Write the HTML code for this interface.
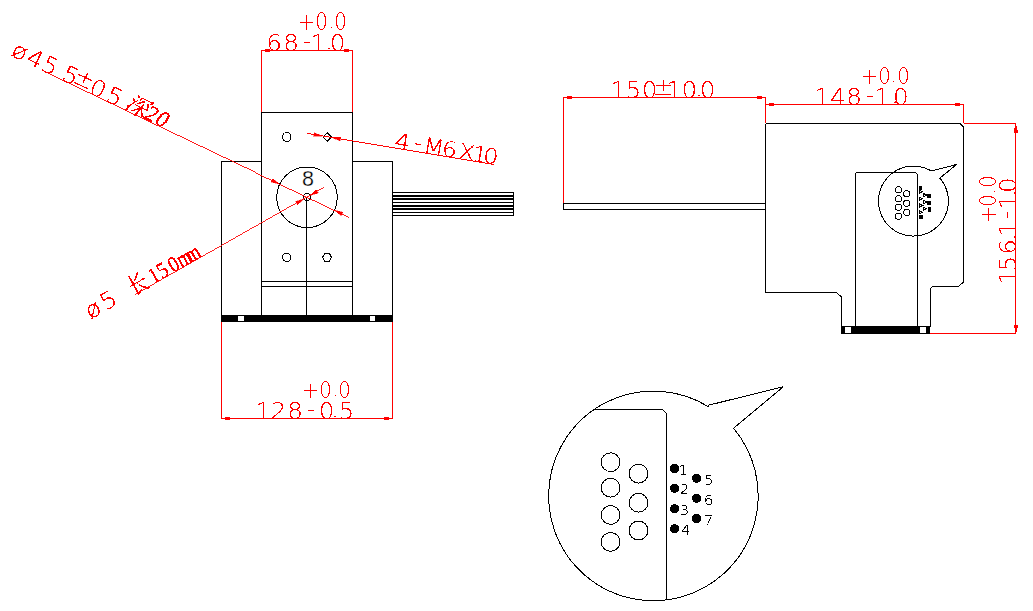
<!DOCTYPE html>
<html lang="zh"><head><meta charset="utf-8"><title>drawing</title>
<style>
html,body{margin:0;padding:0;background:#fff;}
body{width:1033px;height:611px;overflow:hidden;}
svg{display:block;}
.k{fill:none;stroke:#000;stroke-width:1;shape-rendering:crispEdges;}
.r{fill:none;stroke:#f00;stroke-width:1;shape-rendering:crispEdges;}
.t{font-family:"DejaVu Sans Light","DejaVu Sans","Liberation Sans","Noto Sans CJK SC",sans-serif;font-weight:200;font-size:24px;fill:#f00;}
.c{font-family:"Liberation Serif","Noto Serif CJK SC",serif;font-weight:400;font-size:23px;fill:#f00;}
.n{font-family:"DejaVu Sans Light","DejaVu Sans","Liberation Sans",sans-serif;font-weight:200;font-size:14px;fill:#000;}
.e{font-family:"Liberation Sans",sans-serif;font-size:21.5px;fill:#000;stroke:#fff;stroke-width:0.3px;}
</style></head><body>
<svg width="1033" height="611" viewBox="0 0 1033 611">
<defs><filter id="th" filterUnits="userSpaceOnUse" x="0" y="0" width="1033" height="611" color-interpolation-filters="sRGB">
<feComponentTransfer><feFuncA type="discrete" tableValues="0 0 1 1 1"/></feComponentTransfer></filter></defs>
<rect width="1033" height="611" fill="#fff"/>
<g class="k">
<path d="M261.5 315 V112.5 H352.5 V315"/>
<path d="M261.5 161.5 H221.5 V315"/>
<path d="M352.5 161.5 H392.5 V315"/>
<path d="M306.5 197 V315"/>
<path d="M261.5 281.5 H352.5 M261.5 286.5 H352.5"/>
<path d="M513.5 192.5 V215.5"/>
<circle cx="307" cy="197.3" r="30.3"/>
<circle cx="307" cy="197" r="3.6"/>
<ellipse cx="286.6" cy="137" rx="4.1" ry="4.6"/>
<circle cx="286.6" cy="257.4" r="4.1"/>
<path d="M322.5 257.4 L325 253.3 H329.4 L331.5 257.4 L329.4 261.5 H325 Z"/>
<path d="M322.9 137 L327.2 132.7 L331.5 137 L327.2 141.3 Z"/>
</g>
<rect x="393" y="192" width="121" height="1" fill="#000" shape-rendering="crispEdges"/>
<rect x="393" y="195" width="121" height="2" fill="#000" shape-rendering="crispEdges"/>
<rect x="393" y="198" width="121" height="2" fill="#000" shape-rendering="crispEdges"/>
<rect x="393" y="202" width="121" height="1" fill="#000" shape-rendering="crispEdges"/>
<rect x="393" y="205" width="121" height="2" fill="#000" shape-rendering="crispEdges"/>
<rect x="393" y="208" width="121" height="2" fill="#000" shape-rendering="crispEdges"/>
<rect x="393" y="212" width="121" height="1" fill="#000" shape-rendering="crispEdges"/>
<rect x="393" y="215" width="121" height="1" fill="#000" shape-rendering="crispEdges"/>
<rect x="221" y="315" width="172" height="7" fill="#000" shape-rendering="crispEdges"/>
<rect x="238" y="316" width="6" height="5" fill="#fff" shape-rendering="crispEdges"/>
<rect x="370" y="316" width="5" height="5" fill="#fff" shape-rendering="crispEdges"/>
<text class="e" text-anchor="middle" x="308" y="186.2">8</text>
<g class="r">
<path d="M261.5 112 V50.5 H352.5 V112"/>
<path d="M221.5 322 V418.5 H392.5 V322"/>
</g>
<rect x="265" y="49" width="5" height="3" fill="#f00" shape-rendering="crispEdges"/>
<rect x="344" y="49" width="5" height="3" fill="#f00" shape-rendering="crispEdges"/>
<rect x="225" y="417" width="5" height="3" fill="#f00" shape-rendering="crispEdges"/>
<rect x="384" y="417" width="5" height="3" fill="#f00" shape-rendering="crispEdges"/>
<g class="r">
<path stroke-width="0.902" d="M43.5 71.5 L348.9 217.4"/>
<path stroke-width="0.870" d="M135.3 294.4 L323.8 187.4"/>
<path stroke-width="0.986" d="M307 133.4 L493.8 164.4"/>
</g>
<polygon points="279.66,184.14 272.81,178.76 271.17,182.19" fill="#f00" stroke="#f00" stroke-width="0.4" shape-rendering="crispEdges"/>
<polygon points="334.34,210.26 341.19,215.64 342.83,212.21" fill="#f00" stroke="#f00" stroke-width="0.4" shape-rendering="crispEdges"/>
<polygon points="304.04,198.88 295.71,201.42 297.59,204.73" fill="#f00" stroke="#f00" stroke-width="0.4" shape-rendering="crispEdges"/>
<polygon points="309.96,195.52 318.29,192.98 316.41,189.67" fill="#f00" stroke="#f00" stroke-width="0.4" shape-rendering="crispEdges"/>
<polygon points="322.46,136.01 314.39,132.75 313.77,136.50" fill="#f00" stroke="#f00" stroke-width="0.4" shape-rendering="crispEdges"/>
<polygon points="331.94,137.59 340.01,140.85 340.63,137.10" fill="#f00" stroke="#f00" stroke-width="0.4" shape-rendering="crispEdges"/>
<g filter="url(#th)">
<text class="t" text-anchor="middle" transform="scale(1.100 1)" x="249.30 264.55 279.09 289.50 298.98 307.05" y="51.00" style="font-size:22.5px" id="t0" dy="0 0 -2 2 -1.5 1.5">68-1.0</text>
<text class="t" text-anchor="middle" transform="scale(0.820 1)" x="374.24 392.07 403.78 415.34" y="30.00" style="font-size:24px" id="t1" dy="0 0 -1.5 1.5">+0.0</text>
<text class="t" text-anchor="middle" transform="scale(1.100 1)" x="239.52 252.98 268.34 282.73 296.84 304.45 314.98" y="419.00" style="font-size:22.5px" id="t2" dy="0 0 0 -2 2 -1.5 1.5">128-0.5</text>
<text class="t" text-anchor="middle" transform="scale(0.871 1)" x="356.92 373.71 385.59 395.52" y="398.00" style="font-size:22.6px" id="t3" dy="0 0 -1.5 1.5">+0.0</text>
<g transform="translate(43.5 71.5) rotate(25.53)">
<text class="t" text-anchor="middle" transform="scale(1.080 1)" x="-27.59 -11.94 3.24 19.91 24.17 37.50 52.41 65.56 69.35" y="-0.50" style="font-size:23px" id="t4" dy="0 0 0 -1.5 1.5 -2.5 2.5 -1.5 1.5">ø45.5±0.5</text>
<text class="c" text-anchor="middle" x="98.90 115.70 128.10" y="-1.00" font-style="italic" id="t5">深20</text>
</g>
<g transform="translate(135.3 294.4) rotate(-29.58)">
<text class="t" text-anchor="middle" transform="scale(1.080 1)" x="-40.93 -24.44" y="0.00" style="font-size:23px" id="t6">ø5</text>
<text class="c" text-anchor="middle" transform="scale(0.850 1)" x="8.82 29.76 42.00 56.59 71.18 82.24" y="-0.50" id="t7">长150mm</text>
</g>
<g transform="translate(307 133.4) rotate(9.43)">
<text class="t" text-anchor="middle" transform="scale(1.100 1)" x="86.91 101.45 115.73 130.27 146.27 158.09 168.18" y="-0.50" style="font-size:22px" id="t8" dy="0 -2 2 0 0 0 0">4-M6X10</text>
</g>
<text class="t" text-anchor="middle" transform="scale(1.100 1)" x="562.25 575.89 590.52 603.02 612.73 626.64 635.45 643.27" y="98.00" style="font-size:22.5px" id="t9" dy="0 0 0 -2.5 2.5 0 -1.5 1.5">150±10.0</text>
<text class="t" text-anchor="middle" transform="scale(1.100 1)" x="747.45 761.61 776.39 790.84 801.93 813.82 819.00" y="105.00" style="font-size:22.5px" id="t10" dy="0 0 0 -2 2 -1.5 1.5">148-1.0</text>
<text class="t" text-anchor="middle" transform="scale(0.871 1)" x="998.13 1015.50 1026.23 1037.31" y="84.00" style="font-size:22.6px" id="t11" dy="0 0 -1.5 1.5">+0.0</text>
<g transform="translate(1016 0) rotate(-90)">
<text class="t" text-anchor="middle" transform="scale(1.100 1)" x="-251.64 -239.59 -224.48 -215.45 -208.18 -195.61 -183.30 -175.45 -168.30" y="0.00" style="font-size:22.5px" id="t12" dy="0 0 0 -1.5 1.5 -2 2 -1.5 1.5">156.1-1.0</text>
<text class="t" text-anchor="middle" transform="scale(0.871 1)" x="-246.61 -230.22 -219.52 -208.38" y="-20.00" style="font-size:22.6px" id="t13" dy="0 0 -1.5 1.5">+0.0</text>
</g>
</g>
<g class="k">
<path d="M765.5 203.5 H563.5 V209.5 H765.5"/>
<path d="M765.5 123.5 H960 L963.5 127 V282 L958.5 286.5 H932.5 L930.5 288.5 V327 M841.5 326 V297 L836.5 292.5 H765.5 V123.5"/>
<path d="M855.5 326 V173.5 L856.5 172.5 H915.5 L917.5 174.5 V326"/>
<path d="M939.8 178.1 A35.0 35.0 0 1 1 931.3 171.0 L956.8 164.4 Z"/>
<circle cx="898.5" cy="189.8" r="3.1"/>
<circle cx="898.5" cy="198.8" r="3.1"/>
<circle cx="898.5" cy="207.3" r="3.1"/>
<circle cx="898.5" cy="216.3" r="3.1"/>
<circle cx="906.7" cy="193.9" r="3.1"/>
<circle cx="906.7" cy="203.2" r="3.1"/>
<circle cx="906.7" cy="212.5" r="3.1"/>
</g>
<rect x="919" y="186" width="3" height="4" fill="#000" shape-rendering="crispEdges"/>
<rect x="927" y="194" width="4" height="4" fill="#000" shape-rendering="crispEdges"/>
<rect x="927" y="201" width="4" height="4" fill="#000" shape-rendering="crispEdges"/>
<rect x="928" y="207" width="3" height="5" fill="#000" shape-rendering="crispEdges"/>
<rect x="919" y="215" width="4" height="4" fill="#000" shape-rendering="crispEdges"/>
<g class="k">
<path d="M919.5 190.3 l3 1.5 l-3 1.5 z"/>
<path d="M919.5 197.3 l3 1.5 l-3 1.5 z"/>
<path d="M919.5 204.0 l3 1.5 l-3 1.5 z"/>
<path d="M919.5 210.8 l3 1.5 l-3 1.5 z"/>
<path d="M923.7 193.6 l3 1.5 l-3 1.5 z"/>
<path d="M923.7 200.5 l3 1.5 l-3 1.5 z"/>
<path d="M923.7 207.3 l3 1.5 l-3 1.5 z"/>
</g>
<rect x="841" y="326" width="89" height="8" fill="#000" shape-rendering="crispEdges"/>
<rect x="845" y="327" width="6" height="6" fill="#fff" shape-rendering="crispEdges"/>
<rect x="920" y="327" width="6" height="6" fill="#fff" shape-rendering="crispEdges"/>
<g class="r">
<path d="M563.5 203 V97.5 H765.5 V123"/>
<path d="M765.5 104.5 H963.5 V123"/>
<path d="M963.5 123.5 H1015.5 V333.5 H930"/>
</g>
<rect x="567" y="96" width="5" height="3" fill="#f00" shape-rendering="crispEdges"/>
<rect x="757" y="96" width="5" height="3" fill="#f00" shape-rendering="crispEdges"/>
<rect x="769" y="103" width="5" height="3" fill="#f00" shape-rendering="crispEdges"/>
<rect x="955" y="103" width="5" height="3" fill="#f00" shape-rendering="crispEdges"/>
<rect x="1015" y="126" width="2" height="2" fill="#f00" shape-rendering="crispEdges"/>
<rect x="1014" y="128" width="3" height="2" fill="#f00" shape-rendering="crispEdges"/>
<rect x="1014" y="130" width="4" height="3" fill="#f00" shape-rendering="crispEdges"/>
<rect x="1014" y="325" width="4" height="3" fill="#f00" shape-rendering="crispEdges"/>
<rect x="1015" y="328" width="2" height="4" fill="#f00" shape-rendering="crispEdges"/>
<g class="k">
<path d="M733.5 428.3 A104.8 104.8 0 1 1 708.1 406.5 L708.2 405.3 L783.3 386.7 L733.5 428.3 Z"/>
<path d="M594.3 409.5 H662.5 L666.5 413.5 V600"/>
<circle cx="610.6" cy="462.2" r="9.4"/>
<circle cx="610.6" cy="487.7" r="9.4"/>
<circle cx="610.6" cy="515.0" r="9.4"/>
<circle cx="610.6" cy="541.9" r="9.4"/>
<circle cx="638.5" cy="473.6" r="9.4"/>
<circle cx="638.5" cy="502.8" r="9.4"/>
<circle cx="638.5" cy="530.5" r="9.4"/>
</g>
<circle cx="674.6" cy="468.5" r="4.6" fill="#000" shape-rendering="crispEdges"/>
<circle cx="674.6" cy="488.3" r="4.6" fill="#000" shape-rendering="crispEdges"/>
<circle cx="674.6" cy="508.7" r="4.6" fill="#000" shape-rendering="crispEdges"/>
<circle cx="674.6" cy="528.7" r="4.6" fill="#000" shape-rendering="crispEdges"/>
<circle cx="696.6" cy="478.3" r="4.6" fill="#000" shape-rendering="crispEdges"/>
<circle cx="696.6" cy="498.3" r="4.6" fill="#000" shape-rendering="crispEdges"/>
<circle cx="696.6" cy="518.5" r="4.6" fill="#000" shape-rendering="crispEdges"/>
<g filter="url(#th)">
<text class="n" text-anchor="middle" transform="scale(1.1 1)" x="621.18" y="475.0">1</text>
<text class="n" text-anchor="middle" transform="scale(1.1 1)" x="622.27" y="494.0">2</text>
<text class="n" text-anchor="middle" transform="scale(1.1 1)" x="622.27" y="514.6">3</text>
<text class="n" text-anchor="middle" transform="scale(1.1 1)" x="623.64" y="535.2">4</text>
<text class="n" text-anchor="middle" transform="scale(1.1 1)" x="644.18" y="484.8">5</text>
<text class="n" text-anchor="middle" transform="scale(1.1 1)" x="644.18" y="504.8">6</text>
<text class="n" text-anchor="middle" transform="scale(1.1 1)" x="644.18" y="524.8">7</text>
</g>
</svg></body></html>
